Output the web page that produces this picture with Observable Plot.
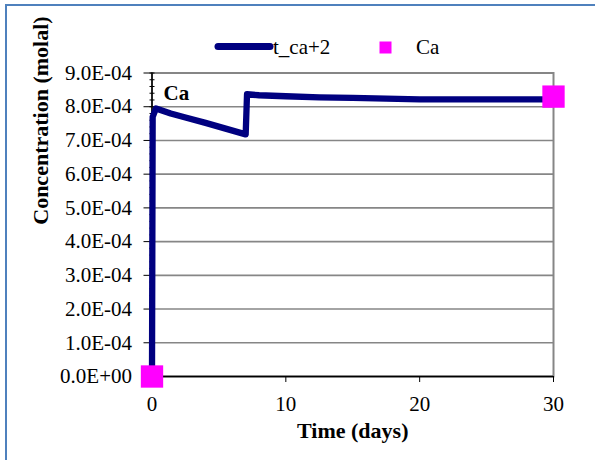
<!DOCTYPE html>
<html>
<head>
<meta charset="utf-8">
<script src="https://cdn.jsdelivr.net/npm/d3@7"></script>
<script src="https://cdn.jsdelivr.net/npm/@observablehq/plot@0.6"></script>
<style>
  html, body { margin: 0; padding: 0; background: #fff; }
  body { width: 595px; height: 460px; position: relative; overflow: hidden; font-family: 'Liberation Serif', serif; }
  #frame { position: absolute; left: 5px; top: 4px; width: 700px; height: 600px; border-left: 2px solid #4F81BD; border-top: 2px solid #4F81BD; box-sizing: border-box; pointer-events: none; }
  #legend { position: relative; height: 62px; width: 595px; }
  #chart { position: relative; }
  #chart svg text { font-family: 'Liberation Serif', serif; }
</style>
</head>
<body>
<div id="frame"></div>
<div id="legend"></div>
<div id="chart"></div>
<script>
// ---- data ----
const seriesNames = ["t_ca+2", "Ca"];
const time = [0, 0.05, 0.3, 1.4, 2.5, 4, 5.5, 7.0, 7.1, 8, 10, 12.5, 15, 17.5, 20, 22.5, 25, 27.5, 30];
const caModel = [0, 7.7e-4, 7.95e-4, 7.8e-4, 7.68e-4, 7.52e-4, 7.35e-4, 7.18e-4, 8.37e-4, 8.34e-4, 8.31e-4, 8.28e-4, 8.26e-4, 8.24e-4, 8.22e-4, 8.22e-4, 8.22e-4, 8.22e-4, 8.22e-4];
const obsTime = [0, 30];
const caObs = [0, 8.3e-4];
const xTicks = [0, 10, 20, 30];
const yTicks = [0, 1e-4, 2e-4, 3e-4, 4e-4, 5e-4, 6e-4, 7e-4, 8e-4, 9e-4];
const yTickLabels = ["0.0E+00", "1.0E-04", "2.0E-04", "3.0E-04", "4.0E-04", "5.0E-04", "6.0E-04", "7.0E-04", "8.0E-04", "9.0E-04"];
const xTitle = "Time (days)";
const yTitle = "Concentration (molal)";
const annotation = "Ca";

const lineData = time.map((t, i) => ({t, v: caModel[i]}));
const obsData = obsTime.map((t, i) => ({t, v: caObs[i]}));
const minorTicks = d3.range(0, 9.0001e-4, 2e-5);
const fmtY = d => {
  let best = 0;
  yTicks.forEach((y, i) => { if (Math.abs(y - d) < Math.abs(yTicks[best] - d)) best = i; });
  return yTickLabels[best];
};

const navy = "#000080";
const magenta = "#FF00FF";
const grid = "#868686";

// ---- legend ----
const legend = document.getElementById("legend");
legend.innerHTML = `
<svg width="595" height="62" style="position:absolute;left:0;top:0;font-family:'Liberation Serif',serif;font-size:21px">
  <line x1="218" x2="270" y1="46.5" y2="46.5" stroke="${navy}" stroke-width="7" stroke-linecap="round"/>
  <text x="273" y="53.5">${seriesNames[0]}</text>
  <rect x="379.5" y="41.5" width="12" height="12" fill="${magenta}"/>
  <text x="416" y="53.5">${seriesNames[1]}</text>
</svg>`;

// ---- chart ----
const chart = Plot.plot({
  width: 595,
  height: 398,
  marginTop: 10.5,
  marginBottom: 84,
  marginLeft: 151.5,
  marginRight: 42,
  style: {fontFamily: "'Liberation Serif', serif", fontSize: "21px", color: "black", background: "transparent", overflow: "visible"},
  x: {domain: [0, 30]},
  y: {domain: [0, 9e-4]},
  marks: [
    Plot.gridY(yTicks, {stroke: grid, strokeOpacity: 1, strokeWidth: 1.6}),
    Plot.frame({stroke: grid, strokeWidth: 2}),
    Plot.ruleX([0], {stroke: "black", strokeWidth: 1.5}),
    Plot.ruleY([0], {stroke: "black", strokeWidth: 1.5}),
    Plot.axisY({ticks: minorTicks, tickSize: 5, dx: 3, tickFormat: () => "", label: null, stroke: "black"}),
    Plot.axisY({ticks: yTicks, tickSize: 8, tickPadding: 12, tickFormat: fmtY, label: null, fontSize: 21, stroke: "black"}),
    Plot.axisX({ticks: xTicks, tickSize: 6, tickPadding: 14, label: null, fontSize: 21, stroke: "black"}),
    Plot.line(lineData, {x: "t", y: "v", stroke: navy, strokeWidth: 6.3, strokeLinejoin: "round"}),
    Plot.dot(obsData, {x: "t", y: "v", symbol: "square", r: 12.6, fill: magenta, stroke: "none"}),
    Plot.text([annotation], {frameAnchor: "top-left", textAnchor: "start", lineAnchor: "middle", dx: 11.5, dy: 20, fontWeight: "bold", fontSize: 21}),
    Plot.text([xTitle], {frameAnchor: "bottom", lineAnchor: "middle", dy: 54, fontWeight: "bold", fontSize: 22}),
    Plot.text([yTitle], {frameAnchor: "left", rotate: -90, lineAnchor: "middle", dx: -111.5, fontWeight: "bold", fontSize: 22})
  ]
});
document.getElementById("chart").appendChild(chart);
</script>
</body>
</html>
